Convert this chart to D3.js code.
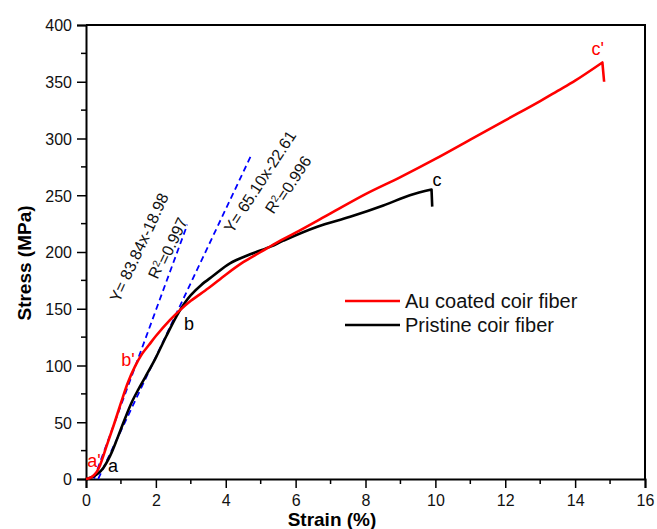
<!DOCTYPE html>
<html>
<head>
<meta charset="utf-8">
<script src="https://cdn.jsdelivr.net/npm/d3@7"></script>
<style>
  html, body { margin: 0; padding: 0; background: #fff; }
  svg { display: block; font-family: "Liberation Sans", Arial, sans-serif; }
</style>
</head>
<body>
<svg id="chart" width="657" height="529"></svg>
<script>
// Stress–strain curves of coir fibers (strain in %, stress in MPa)
const auStrain = [0, 0.15, 0.3, 0.4, 0.6, 0.8, 1.0, 1.2, 1.4, 1.6, 1.8, 2.0, 2.4, 2.7, 3.0, 3.5, 4.0, 4.5, 5.0, 5.5, 6.0, 7.0, 8.0, 9.0, 10.0, 11.0, 12.0, 13.0, 13.5, 14.0, 14.78, 14.83];
const auStress = [0, 1.5, 6, 12, 30, 48, 67, 85, 99, 110, 118, 126, 140, 149, 157, 168, 180, 191, 200, 209, 217, 234, 251, 266, 282, 299, 316, 333, 342, 351, 367, 350];

const priStrain = [0, 0.2, 0.35, 0.5, 0.7, 0.9, 1.1, 1.3, 1.5, 1.7, 2.0, 2.3, 2.6, 2.8, 3.0, 3.3, 3.64, 4.12, 4.7, 5.3, 5.65, 6.6, 7.56, 8.51, 9.27, 9.89, 9.91];
const priStress = [0, 2, 5, 10, 21, 36, 52, 67, 79, 90, 107, 126, 144, 154, 162, 171, 179, 190, 198, 205, 210, 222, 231, 241, 250, 255, 240];

// Linear fits of the elastic regions
const fitSlopes = [83.84, 65.10];
const fitIntercepts = [-18.98, -22.61];
const fitRanges = [[0.23, 2.9], [0.35, 4.72]];
const fitEquations = ["Y= 83.84x-18.98", "Y= 65.10x-22.61"];
const fitR2 = ["0.997", "0.996"];
const fitEqPos = [[1.52, 204], [4.98, 262]];
const fitR2Pos = [[2.3, 204], [5.75, 260]];
const fitAngles = [-65, -57];

// Point labels on the curves
const pointNames = ["a'", "b'", "c'", "a", "b", "c"];
const pointX = [0.23, 1.2, 14.65, 0.77, 2.95, 10.05];
const pointY = [10.6, 99.6, 373.6, 6.2, 131, 258];
const pointSeries = [0, 0, 0, 1, 1, 1];

const xTicks = [0, 2, 4, 6, 8, 10, 12, 14, 16];
const yTicks = [0, 50, 100, 150, 200, 250, 300, 350, 400];
const seriesNames = ["Au coated coir fiber", "Pristine coir fiber"];
const seriesColors = ["#ff0000", "#000000"];

const svg = d3.select("#chart");
const x = d3.scaleLinear().domain([0, 16]).range([86, 645]);
const y = d3.scaleLinear().domain([0, 400]).range([479, 25]);

// Frame: top and right edges
svg.append("path")
  .attr("d", `M${x(0)},${y(400)}H${x(16)}V${y(0)}`)
  .attr("fill", "none").attr("stroke", "#000").attr("stroke-width", 2);

// Minor ticks
const xMinor = d3.range(1, 16, 2);
const yMinor = d3.range(25, 400, 50);
svg.append("g").selectAll("line").data(xMinor).join("line")
  .attr("x1", d => x(d)).attr("x2", d => x(d))
  .attr("y1", y(0)).attr("y2", y(0) + 5)
  .attr("stroke", "#000").attr("stroke-width", 1.5);
svg.append("g").selectAll("line").data(yMinor).join("line")
  .attr("x1", x(0) - 5).attr("x2", x(0))
  .attr("y1", d => y(d)).attr("y2", d => y(d))
  .attr("stroke", "#000").attr("stroke-width", 1.5);

// Axes
const xAxis = svg.append("g").attr("transform", `translate(0,${y(0)})`)
  .call(d3.axisBottom(x).tickValues(xTicks).tickSize(9).tickPadding(6).tickFormat(d3.format("d")));
const yAxis = svg.append("g").attr("transform", `translate(${x(0)},0)`)
  .call(d3.axisLeft(y).tickValues(yTicks).tickSize(9).tickPadding(5).tickFormat(d3.format("d")));
[xAxis, yAxis].forEach(g => {
  g.select(".domain").attr("stroke-width", 2);
  g.selectAll(".tick line").attr("stroke-width", 1.5);
  g.selectAll(".tick text").attr("font-size", 16).attr("fill", "#111")
    .attr("font-family", "'Liberation Sans', Arial, sans-serif");
});
xAxis.selectAll(".tick text").attr("dy", "0.75em");
yAxis.selectAll(".tick text").attr("dy", "0.36em");

// Axis titles
svg.append("text").attr("x", 332).attr("y", 526).attr("text-anchor", "middle")
  .attr("font-size", 19).attr("font-weight", "bold").text("Strain (%)");
svg.append("text").attr("transform", "translate(31,263) rotate(-90)").attr("text-anchor", "middle")
  .attr("font-size", 19).attr("font-weight", "bold").text("Stress (MPa)");

// Fit lines
fitSlopes.forEach((m, i) => {
  const pts = fitRanges[i].map(v => [v, m * v + fitIntercepts[i]]);
  svg.append("path")
    .attr("d", d3.line().x(d => x(d[0])).y(d => y(d[1]))(pts))
    .attr("fill", "none").attr("stroke", "#0000ff").attr("stroke-width", 1.8)
    .attr("stroke-dasharray", "6,4");
});

// Curves: smooth loading part, then a straight drop at fracture
const smooth = d3.line().x(d => x(d[0])).y(d => y(d[1])).curve(d3.curveCatmullRom.alpha(0.5));
function curvePath(xs, ys) {
  const pts = d3.zip(xs, ys);
  const last = pts[pts.length - 1];
  return smooth(pts.slice(0, -1)) + `L${x(last[0])},${y(last[1])}`;
}
svg.append("path").attr("d", curvePath(priStrain, priStress)).attr("fill", "none")
  .attr("stroke", seriesColors[1]).attr("stroke-width", 2.6).attr("stroke-linejoin", "round");
svg.append("path").attr("d", curvePath(auStrain, auStress)).attr("fill", "none")
  .attr("stroke", seriesColors[0]).attr("stroke-width", 2.6).attr("stroke-linejoin", "round");

// Fit annotations
fitEquations.forEach((t, i) => {
  svg.append("text")
    .attr("transform", `translate(${x(fitEqPos[i][0])},${y(fitEqPos[i][1])}) rotate(${fitAngles[i]})`)
    .attr("text-anchor", "middle").attr("dy", "0.35em").attr("font-size", 16).attr("fill", "#111").text(t);
  const r = svg.append("text")
    .attr("transform", `translate(${x(fitR2Pos[i][0])},${y(fitR2Pos[i][1])}) rotate(${fitAngles[i]})`)
    .attr("text-anchor", "middle").attr("dy", "0.35em").attr("font-size", 16).attr("fill", "#111");
  r.append("tspan").text("R");
  r.append("tspan").attr("dy", "-0.45em").attr("font-size", 10).text("2");
  r.append("tspan").attr("dy", "0.45em").text("=" + fitR2[i]);
});

// Point labels
pointNames.forEach((n, i) => {
  svg.append("text").attr("x", x(pointX[i])).attr("y", y(pointY[i]))
    .attr("text-anchor", "middle").attr("font-size", 18)
    .attr("fill", seriesColors[pointSeries[i]]).text(n);
});

// Legend
seriesNames.forEach((n, i) => {
  const ly = 301 + i * 24;
  svg.append("line").attr("x1", 345).attr("x2", 400).attr("y1", ly).attr("y2", ly)
    .attr("stroke", seriesColors[i]).attr("stroke-width", 2.6);
  svg.append("text").attr("x", 405).attr("y", ly).attr("dy", "0.35em")
    .attr("font-size", 20).attr("fill", "#111").text(n);
});
</script>
</body>
</html>
